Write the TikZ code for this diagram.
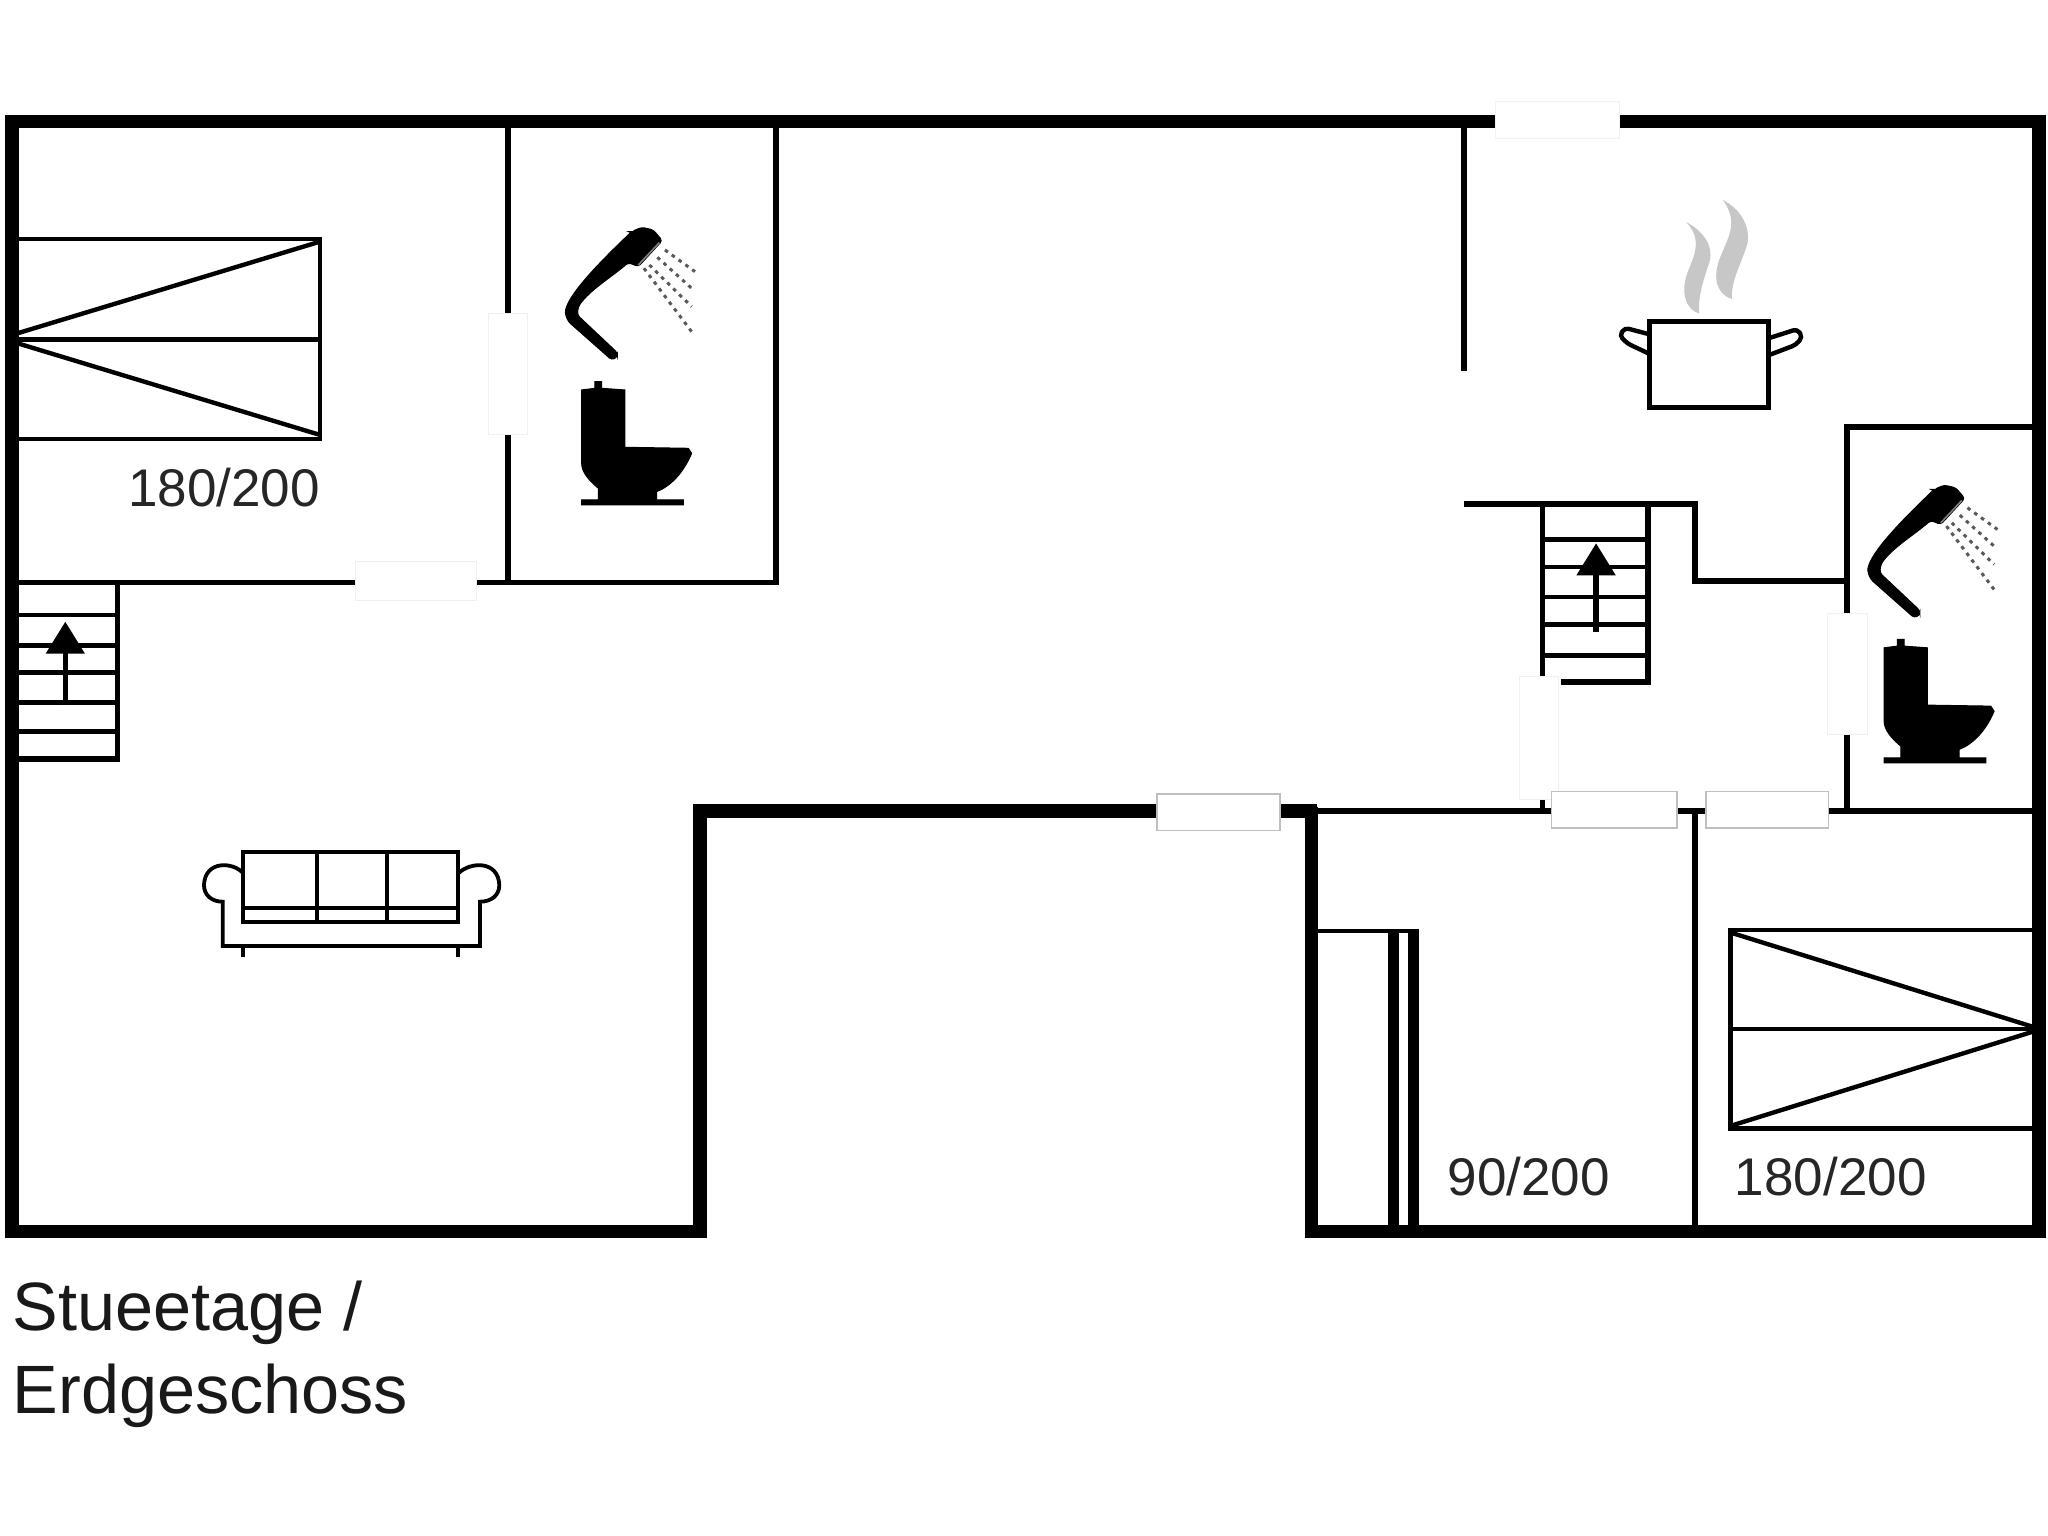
\documentclass[tikz,border=0pt]{standalone}
\usepackage{fontspec}
\setmainfont{Liberation Sans}
\usetikzlibrary{arrows.meta}

\tikzset{
  showertoilet/.pic={
    % shower head and handle
    \filldraw[black, line width=0.5pt, rounded corners=1.5pt] (395,95) -- (425,82) -- (460,90) -- (487,122) -- (415,200) -- (385,188) .. controls (330,235) and (270,270) .. (235,320) -- (232,345) -- (352,458) -- (352,472) -- (335,480) -- (205,365) -- (195,340) .. controls (205,285) and (290,195) .. cycle;
    \draw[gray, line width=0.8pt] (478,128) -- (415,195);
    \draw[spray] (495,150) -- (585,215);
    \draw[spray] (472,172) -- (575,265);
    \draw[spray] (448,195) -- (575,320);
    \draw[spray] (432,205) -- (580,402);
    % toilet
    \filldraw[black, line width=0.5pt] (245,570) -- (285,565) -- (285,545) -- (305,545) -- (305,565) -- (375,570) -- (375,742) -- (565,745) -- (575,760) .. controls (550,820) and (510,860) .. (470,875) -- (470,900) -- (550,900) -- (550,915) -- (245,915) -- (245,900) -- (295,900) -- (295,865) .. controls (265,840) and (245,815) .. (245,790) -- cycle;
  }
}

\begin{document}
\begin{tikzpicture}[
  x=0.6531pt, y=-0.6531pt,
  outerwall/.style={line width=6.8pt, line join=miter, draw=black},
  innerwall/.style={line width=2.9pt, line join=miter, draw=black},
  tread/.style={line width=2.3pt, draw=black},
  furniture/.style={line width=2.2pt, line join=miter, draw=black},
  sofaline/.style={line width=1.9pt, line join=miter, draw=black},
  stairarrow/.style={line width=2.6pt, draw=black, -{Triangle[length=16pt,width=19pt]}},
  spray/.style={line width=1.5pt, draw=black!65, dash pattern=on 1.8pt off 2.4pt},
  steam/.style={fill=black!22},
  gapplain/.style={fill=white, draw=black!6, line width=0.5pt},
  gapmarked/.style={fill=white, draw=black!25, line width=0.8pt},
  sizetext/.style={font=\fontsize{26.5}{30}\selectfont, anchor=west, inner sep=0pt, text=black!85},
  captiontext/.style={font=\fontsize{34.2}{41.8}\selectfont, anchor=west, align=left, inner sep=0pt, text=black!90}
]

\path[use as bounding box, fill=white] (0,0) rectangle (1568,1176);

% Outer walls
\draw[outerwall] (1008,621) -- (536,621) -- (536,943) -- (9,943) -- (9,93) -- (1561,93) -- (1561,943) -- (1004,943) -- (1004,618);

% Inner walls
\draw[innerwall] (389,95) -- (389,445);
\draw[innerwall] (594,95) -- (594,446) -- (12,446);
\draw[innerwall] (1121,95) -- (1121,284);
\draw[innerwall] (1121,386) -- (1298,386) -- (1298,445) -- (1414,445);
\draw[innerwall] (1556,327) -- (1414,327) -- (1414,621);
\draw[innerwall] (1008,621) -- (1556,621);
\draw[innerwall] (1298,621) -- (1298,940);

% Stairs
\draw[innerwall] (90,446) -- (90,581) -- (12,581);
\foreach \y in {471,494,515,538,560} {
  \draw[tread] (12,\y) -- (90,\y);
}
\draw[stairarrow] (50,540) -- (50,476);
\draw[innerwall] (1181,386) -- (1181,621);
\draw[innerwall] (1262,386) -- (1262,522) -- (1195,522);
\foreach \y in {413,434,457,478,502} {
  \draw[tread] (1181,\y) -- (1262,\y);
}
\draw[stairarrow] (1222,484) -- (1222,416);

% Doors and windows
\path[gapplain] (1145,78) rectangle (1240,106);
\path[gapplain] (374,240) rectangle (404,333);
\path[gapplain] (272,430) rectangle (365,460);
\path[gapplain] (1399,470) rectangle (1430,562);
\path[gapplain] (1163,518) rectangle (1193,612);
\path[gapmarked] (886,608) rectangle (980,636);
\path[gapmarked] (1188,606) rectangle (1284,634);
\path[gapmarked] (1306,606) rectangle (1400,634);

% Beds
\draw[furniture] (14,183) -- (245,183) -- (245,336) -- (14,336);
\draw[furniture] (14,260) -- (245,260);
\draw[furniture] (14,255) -- (245,185);
\draw[furniture] (14,263) -- (245,333);
\draw[furniture] (1556,712) -- (1325,712) -- (1325,864) -- (1556,864);
\draw[furniture] (1325,788) -- (1556,788);
\draw[furniture] (1325,714) -- (1556,786);
\draw[furniture] (1325,862) -- (1556,790);
\draw[furniture] (1008,713) -- (1086,713);
\draw[line width=5.6pt] (1067,711) -- (1067,940);
\draw[line width=5.6pt] (1082.5,711) -- (1082.5,940);

% Bathrooms
\pic[scale=0.2552] at (382.8,153.1) {showertoilet};
\pic[scale=0.2552] at (1380,350.5) {showertoilet};

% Pot and steam
\draw[furniture] (1263,246) rectangle (1354,312);
\draw[furniture, rounded corners=2pt] (1263,256) -- (1244,251) -- (1240,257) -- (1246,263) -- (1263,271);
\draw[furniture, rounded corners=2pt] (1354,259) -- (1376,252) -- (1380,258) -- (1375,264) -- (1354,272);
\fill[steam] (1291,170) .. controls (1304,177) and (1312,188) .. (1309,200) .. controls (1303,218) and (1300,228) .. (1301,240) .. controls (1292,238) and (1285,225) .. (1293,206) .. controls (1299,192) and (1302,182) .. (1291,170) -- cycle;
\fill[steam] (1319,153) .. controls (1332,160) and (1340,172) .. (1338,186) .. controls (1333,203) and (1325,215) .. (1326,229) .. controls (1316,226) and (1310,215) .. (1317,197) .. controls (1324,180) and (1331,170) .. (1319,153) -- cycle;

% Sofa
\begin{scope}[shift={(137.8,635.5)}, scale=0.2552]
  \draw[sofaline] (190,65) rectangle (835,275);
  \draw[sofaline] (190,235) -- (835,235);
  \draw[sofaline] (410,65) -- (410,275);
  \draw[sofaline] (620,65) -- (620,275);
  \draw[sofaline] (190,130) .. controls (160,95) and (75,90) .. (72,165) .. controls (72,195) and (95,215) .. (128,215) -- (128,348) -- (900,348) -- (900,215) .. controls (935,215) and (958,195) .. (958,165) .. controls (955,90) and (870,95) .. (835,130);
  \draw[sofaline] (190,348) -- (190,382);
  \draw[sofaline] (835,348) -- (835,382);
\end{scope}

% Labels
\node (bedsizeA) [sizetext] at (98,373) {180/200};
\node (bedsizeB) [sizetext] at (1108,901) {90/200};
\node (bedsizeC) [sizetext] at (1328,901) {180/200};
\node (floorname) [captiontext] at (9.5,1037) {Stueetage /\\Erdgeschoss};

\end{tikzpicture}
\end{document}
